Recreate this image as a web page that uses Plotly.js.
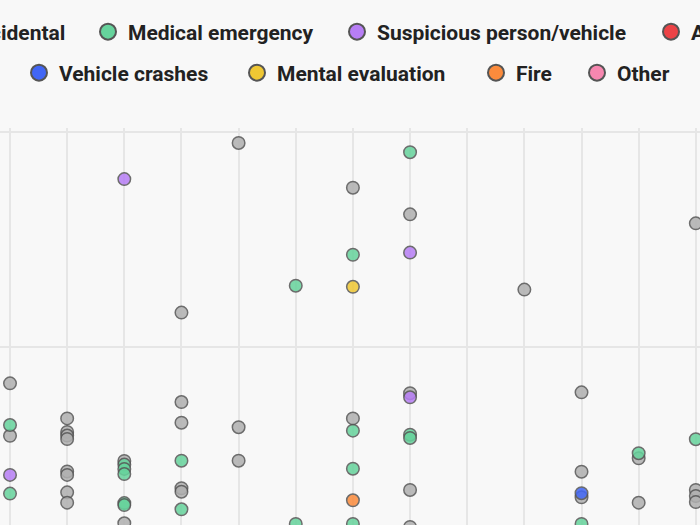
<!DOCTYPE html>
<html>
<head>
<meta charset="utf-8">
<script src="https://cdn.plot.ly/plotly-3.0.1.min.js"></script>
<style>
  html, body { margin: 0; padding: 0; width: 700px; height: 525px; overflow: hidden; background: #f8f8f8; }
  #chart { position: absolute; left: -100px; top: 0; width: 900px; height: 700px; }
</style>
</head>
<body>
<div id="chart"></div>
<script>
// Categories and colours
const categories = ["Accidental", "Medical emergency", "Suspicious person/vehicle", "Assault",
                    "Vehicle crashes", "Mental evaluation", "Fire", "Other"];
const colors = ["#b0b0b0", "#66d39c", "#b77ef5", "#ec4346", "#4166f5", "#efc733", "#fb8b3c", "#f787b0"];

// Column index (x) and value (y) for each category
const accidentalX = [0,0,1,1,1,1,1,1,1,1,2,2,3,3,3,3,3,4,4,4,6,6,7,7,7,7,9,10,10,10,11,11,12,12,12,12];
const accidentalY = [18.31,15.87,16.68,16.05,15.88,15.72,14.21,14.05,13.24,12.76,14.70,11.80,21.60,17.44,16.48,13.43,13.27,29.49,16.27,14.71,27.41,16.68,26.17,17.85,13.35,11.63,22.67,17.89,14.20,13.01,14.82,12.76,25.75,13.35,13.07,12.79];

const medicalX = [0,0,2,2,2,2,2,3,3,5,5,6,6,6,6,7,7,7,10,11,12];
const medicalY = [16.37,13.18,14.53,14.33,14.09,12.74,12.65,14.71,12.45,22.85,11.77,24.29,16.11,14.34,11.77,29.06,15.92,15.77,11.77,15.06,15.71];

const suspiciousX = [0,2,7,7];
const suspiciousY = [14.05,27.81,24.39,17.66];

const assaultX = [];
const assaultY = [];

const vehicleX = [10];
const vehicleY = [13.20];

const mentalX = [6];
const mentalY = [22.80];

const fireX = [6];
const fireY = [12.87];

const otherX = [];
const otherY = [];

const seriesX = [accidentalX, medicalX, suspiciousX, assaultX, vehicleX, mentalX, fireX, otherX];
const seriesY = [accidentalY, medicalY, suspiciousY, assaultY, vehicleY, mentalY, fireY, otherY];

// legend marker centres (page px) and rows
const legendCenters = [-55, 108, 357, 671, 39, 257, 496, 597];
const legendRows = [0, 0, 0, 0, 1, 1, 1, 1];
const rowY = [32, 73];

const DIV_LEFT = -100, DIV_W = 900, DIV_H = 700;
const SYMBOL_OFFSET = 20;

const traces = [];
// data traces
categories.forEach((c, i) => {
  traces.push({
    type: 'scatter', mode: 'markers', name: c,
    x: seriesX[i], y: seriesY[i],
    showlegend: false,
    marker: { size: 12.5, color: colors[i], opacity: 0.85, line: { color: '#555555', width: 1.5 } },
    hoverinfo: 'skip'
  });
});
const layout = {
  width: DIV_W, height: DIV_H,
  paper_bgcolor: '#f8f8f8', plot_bgcolor: '#f8f8f8',
  margin: { l: 0, r: 0, t: 128, b: 0, autoexpand: false },
  font: { family: 'Roboto, sans-serif', color: '#222222' },
  xaxis: { range: [-1.925, 13.823], dtick: 1, tick0: 0, showgrid: true, gridcolor: '#e6e6e6', gridwidth: 2,
           zeroline: false, showline: false, showticklabels: false, ticks: '', fixedrange: true },
  yaxis: { range: [3.581, 30.186], dtick: 10, tick0: 0, showgrid: true, gridcolor: '#e6e6e6', gridwidth: 2,
           zeroline: false, showline: false, showticklabels: false, ticks: '', fixedrange: true },
  showlegend: true
};
// legend entries (one legend per entry so each sits where the reference puts it)
categories.forEach((c, i) => {
  const key = i === 0 ? 'legend' : 'legend' + (i + 1);
  traces.push({
    type: 'scatter', mode: 'markers', name: c, x: [null], y: [null],
    legend: key, showlegend: true,
    marker: { size: 16, color: colors[i], line: { color: '#555555', width: 2 } },
    hoverinfo: 'skip'
  });
  layout[key] = {
    xref: 'container', yref: 'container',
    x: (legendCenters[i] - SYMBOL_OFFSET - DIV_LEFT) / DIV_W,
    y: 1 - rowY[legendRows[i]] / DIV_H,
    xanchor: 'left', yanchor: 'middle',
    orientation: 'h', bgcolor: 'rgba(0,0,0,0)', borderwidth: 0,
    font: { family: 'Roboto, sans-serif', size: 21, color: '#222222', weight: 'bold' },
    itemclick: false, itemdoubleclick: false
  };
});

Plotly.newPlot('chart', traces, layout, { staticPlot: true, displayModeBar: false });
</script>
</body>
</html>
